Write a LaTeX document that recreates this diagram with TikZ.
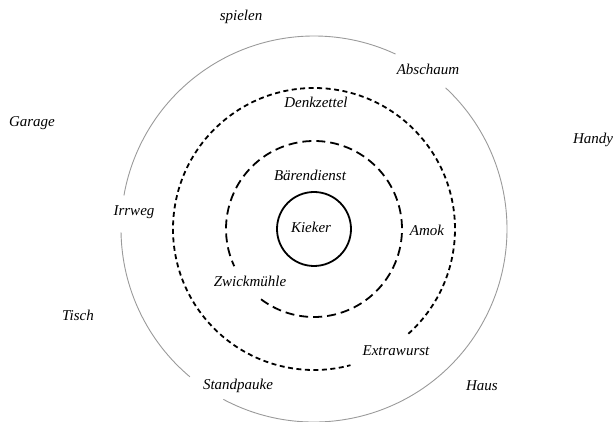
\documentclass[tikz,border=0pt]{standalone}
\usepackage{fontspec}
\setmainfont{Liberation Serif}
\usetikzlibrary{positioning}
\definecolor{RingGray}{HTML}{9A9A9A}

\begin{document}
\begin{tikzpicture}[x=1pt,y=1pt,line cap=butt,
    word/.style={font=\fontsize{15}{18}\selectfont\itshape,inner sep=0pt},
    outerring/.style={RingGray,line width=0.9pt},
    midring/.style={line width=1.8pt,dash pattern=on 5pt off 3.5pt},
    innerring/.style={line width=1.8pt,dash pattern=on 9pt off 5pt}]
  \useasboundingbox (-314,-193) rectangle (301,229);
  \coordinate (M) at (0,0);
  % rings, each with its gaps
  \draw[outerring] (M) ++(65:193) arc[start angle=65,end angle=170,radius=193];
  \draw[outerring] (M) ++(181:193) arc[start angle=181,end angle=230,radius=193];
  \draw[outerring] (M) ++(242:193) arc[start angle=242,end angle=407,radius=193];
  \draw[midring] (M) ++(-48:141) arc[start angle=-48,end angle=285,radius=141];
  \draw[innerring] (M) ++(233:88) arc[start angle=233,end angle=565,radius=88];
  \draw[line width=1.8pt] (M) circle[radius=37];
  % words
  \node[word] (kieker) at (-3,2) {Kieker};
  \node[word] (baerendienst) at (-4,54) {Bärendienst};
  \node[word] (amok) at (113,-1) {Amok};
  \node[word] (zwickmuehle) at (-64,-52) {Zwickmühle};
  \node[word] (denkzettel) at (2,127) {Denkzettel};
  \node[word] (irrweg) at (-180,17) {Irrweg};
  \node[word] (extrawurst) at (82,-122) {Extrawurst};
  \node[word] (standpauke) at (-76,-157) {Standpauke};
  \node[word] (abschaum) at (114,160) {Abschaum};
  \node[word] (spielen) at (-73,212) {spielen};
  \node[word] (garage) at (-282,106) {Garage};
  \node[word] (handy) at (279,89) {Handy};
  \node[word] (tisch) at (-236,-86) {Tisch};
  \node[word] (haus) at (168,-157) {Haus};
\end{tikzpicture}
\end{document}
